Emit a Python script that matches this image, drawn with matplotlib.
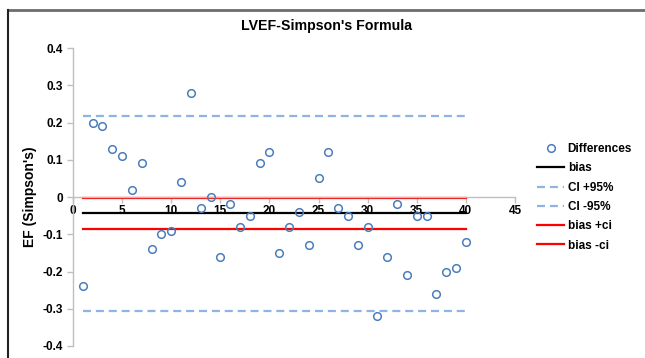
import numpy as np
import matplotlib.pyplot as plt

plt.rcParams['font.family'] = ['Liberation Sans', 'DejaVu Sans']
plt.rcParams['font.weight'] = 'bold'

# differences between the two Simpson's measurements, one per patient
patient = np.arange(1, 41)
diff = [-0.24, 0.20, 0.19, 0.13, 0.11, 0.02, 0.09, -0.14, -0.10, -0.09,
        0.04, 0.28, -0.03, 0.00, -0.16, -0.02, -0.08, -0.05, 0.09, 0.12,
        -0.15, -0.08, -0.04, -0.13, 0.05, 0.12, -0.03, -0.05, -0.13, -0.08,
        -0.32, -0.16, -0.02, -0.21, -0.05, -0.05, -0.26, -0.20, -0.19, -0.12]

d = np.array(diff)
bias = d.mean()
sd = d.std(ddof=1)
loa_hi = bias + 1.96 * sd
loa_lo = bias - 1.96 * sd
ci = 1.96 * sd / np.sqrt(len(d))

W, H = 645, 358
fig = plt.figure(figsize=(W / 100, H / 100), dpi=100)
ax = fig.add_axes([73 / W, 1 - 346 / H, (515 - 73) / W, (346 - 48) / H])

xs = [patient[0], patient[-1]]
ax.plot(patient, diff, 'o', ms=5.5, mfc='none', mec='#4a7ebb', mew=1.1,
        label='Differences', zorder=5)
ax.plot(xs, [bias, bias], color='black', lw=1.6, label='bias')
ax.plot(xs, [loa_hi, loa_hi], color='#8db4e2', lw=1.6, dashes=(3.6, 2.2),
        label='CI +95%')
ax.plot(xs, [loa_lo, loa_lo], color='#8db4e2', lw=1.6, dashes=(3.6, 2.2),
        label='CI -95%')
ax.plot(xs, [bias + ci, bias + ci], color='#ff0000', lw=1.6, label='bias +ci')
ax.plot(xs, [bias - ci, bias - ci], color='#ff0000', lw=1.6, label='bias -ci')

ax.set_xlim(0, 45)
ax.set_ylim(-0.4, 0.4)
ax.set_xticks(np.arange(0, 46, 5))
ax.set_yticks(np.arange(-0.4, 0.41, 0.1))
ax.set_yticklabels(['-0.4', '-0.3', '-0.2', '-0.1', '0', '0.1', '0.2', '0.3', '0.4'])

for s in ['top', 'right']:
    ax.spines[s].set_visible(False)
ax.spines['bottom'].set_position(('data', 0))
for s in ['left', 'bottom']:
    ax.spines[s].set_color('#bfbfbf')
    ax.spines[s].set_linewidth(1)
ax.tick_params(axis='both', colors='#bfbfbf', labelcolor='black',
               labelsize=8.5, length=4, width=1)
ax.tick_params(axis='y', pad=3)
ax.tick_params(axis='x', pad=2)
for lab in ax.get_xticklabels() + ax.get_yticklabels():
    lab.set_fontweight('bold')

ax.set_ylabel("EF (Simpson's)", fontsize=10, fontweight='bold', labelpad=4)
fig.text(327 / W, 1 - 26 / H, "LVEF-Simpson's Formula", ha='center',
         va='center', fontsize=10.2, fontweight='bold')

ax.legend(loc='upper left', bbox_to_anchor=(537 / W, 1 - 143 / H),
          bbox_transform=fig.transFigure, frameon=False, fontsize=8.5,
          handlelength=2.3, handletextpad=0.3, labelspacing=0.62,
          borderaxespad=0, borderpad=0)

# chart frame
fig.add_artist(plt.Line2D([8 / W, 1], [1 - 10 / H, 1 - 10 / H],
                          transform=fig.transFigure, color='#6d6d6d', lw=2))
fig.add_artist(plt.Line2D([8 / W, 8 / W], [0, 1 - 10 / H],
                          transform=fig.transFigure, color='#222222', lw=1.5))

fig.savefig('out.png', dpi=100)
